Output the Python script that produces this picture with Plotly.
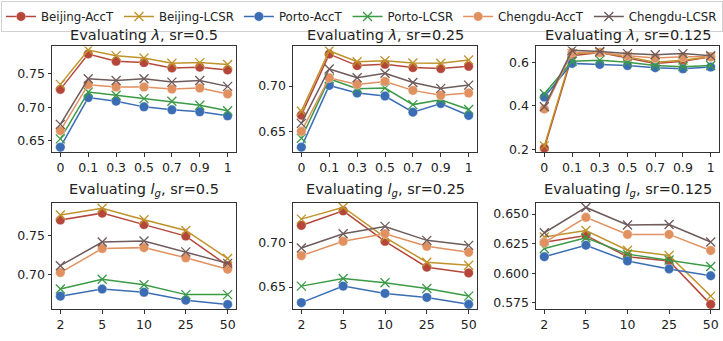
import plotly.graph_objects as go

lam_cats = ["0", "0.1", "0.3", "0.5", "0.7", "0.9", "1"]
lg_cats = ["2", "5", "10", "25", "50"]

series_names = ["Beijing-AccT", "Beijing-LCSR", "Porto-AccT", "Porto-LCSR", "Chengdu-AccT", "Chengdu-LCSR"]

# Evaluating lambda, sr=0.5
lam05_beijing_acct = [0.7267, 0.7797, 0.7688, 0.7668, 0.7589, 0.7599, 0.7559]
lam05_beijing_lcsr = [0.7342, 0.7856, 0.7772, 0.7738, 0.7658, 0.7668, 0.7639]
lam05_porto_acct = [0.6401, 0.7144, 0.7089, 0.7005, 0.6960, 0.6931, 0.6871]
lam05_porto_lcsr = [0.6525, 0.7228, 0.7178, 0.7129, 0.7089, 0.7030, 0.6946]
lam05_chengdu_acct = [0.6649, 0.7337, 0.7302, 0.7302, 0.7272, 0.7287, 0.7198]
lam05_chengdu_lcsr = [0.6743, 0.7426, 0.7401, 0.7426, 0.7376, 0.7401, 0.7312]

# Evaluating lambda, sr=0.25
lam025_beijing_acct = [0.6681, 0.7351, 0.7225, 0.7239, 0.7203, 0.7192, 0.7217]
lam025_beijing_lcsr = [0.6725, 0.7388, 0.7268, 0.7279, 0.7254, 0.7250, 0.7286]
lam025_porto_acct = [0.6330, 0.7007, 0.6924, 0.6891, 0.6714, 0.6808, 0.6678]
lam025_porto_lcsr = [0.6428, 0.7080, 0.6971, 0.6978, 0.6797, 0.6851, 0.6743]
lam025_chengdu_acct = [0.6504, 0.7091, 0.7018, 0.7051, 0.6953, 0.6899, 0.6924]
lam025_chengdu_lcsr = [0.6591, 0.7188, 0.7091, 0.7141, 0.7040, 0.6975, 0.7011]

# Evaluating lambda, sr=0.125
lam0125_beijing_acct = [0.205, 0.630, 0.645, 0.620, 0.595, 0.605, 0.625]
lam0125_beijing_lcsr = [0.215, 0.640, 0.645, 0.625, 0.600, 0.610, 0.625]
lam0125_porto_acct = [0.440, 0.595, 0.590, 0.585, 0.575, 0.570, 0.578]
lam0125_porto_lcsr = [0.455, 0.605, 0.610, 0.600, 0.585, 0.580, 0.585]
lam0125_chengdu_acct = [0.385, 0.645, 0.645, 0.630, 0.620, 0.625, 0.625]
lam0125_chengdu_lcsr = [0.395, 0.655, 0.650, 0.640, 0.635, 0.640, 0.630]

# Evaluating l_g, sr=0.5
lg05_beijing_acct = [0.7699, 0.7788, 0.7640, 0.7492, 0.7110]
lg05_beijing_lcsr = [0.7763, 0.7852, 0.7703, 0.7564, 0.7203]
lg05_porto_acct = [0.6716, 0.6809, 0.6767, 0.6665, 0.6610]
lg05_porto_lcsr = [0.6809, 0.6936, 0.6864, 0.6737, 0.6737]
lg05_chengdu_acct = [0.7021, 0.7331, 0.7343, 0.7212, 0.7064]
lg05_chengdu_lcsr = [0.7110, 0.7415, 0.7428, 0.7288, 0.7140]

# Evaluating l_g, sr=0.25
lg025_beijing_acct = [0.7194, 0.7358, 0.7015, 0.6724, 0.6660]
lg025_beijing_lcsr = [0.7265, 0.7399, 0.7060, 0.6780, 0.6746]
lg025_porto_acct = [0.6325, 0.6511, 0.6429, 0.6384, 0.6306]
lg025_porto_lcsr = [0.6511, 0.6597, 0.6549, 0.6485, 0.6399]
lg025_chengdu_acct = [0.6854, 0.7015, 0.7101, 0.6959, 0.6892]
lg025_chengdu_lcsr = [0.6940, 0.7101, 0.7183, 0.7026, 0.6970]

# Evaluating l_g, sr=0.125
lg0125_beijing_acct = [0.6261, 0.6319, 0.6139, 0.6103, 0.5736]
lg0125_beijing_lcsr = [0.6306, 0.6361, 0.6194, 0.6150, 0.5806]
lg0125_porto_acct = [0.6139, 0.6236, 0.6103, 0.6036, 0.5978]
lg0125_porto_lcsr = [0.6208, 0.6300, 0.6161, 0.6111, 0.6056]
lg0125_chengdu_acct = [0.6258, 0.6472, 0.6328, 0.6328, 0.6192]
lg0125_chengdu_lcsr = [0.6342, 0.6556, 0.6408, 0.6411, 0.6264]

y_ticks_1 = [0.65, 0.70, 0.75]
y_ticks_2 = [0.65, 0.70]
y_ticks_3 = [0.2, 0.4, 0.6]
y_ticks_4 = [0.70, 0.75]
y_ticks_5 = [0.65, 0.70]
y_ticks_6 = [0.575, 0.600, 0.625, 0.650]

titles = [
    "Evaluating <i>λ</i>, sr=0.5",
    "Evaluating <i>λ</i>, sr=0.25",
    "Evaluating <i>λ</i>, sr=0.125",
    "Evaluating <i>l</i><sub><i>g</i></sub>, sr=0.5",
    "Evaluating <i>l</i><sub><i>g</i></sub>, sr=0.25",
    "Evaluating <i>l</i><sub><i>g</i></sub>, sr=0.125",
]

colors = ["#b5473a", "#c0922a", "#3b6db5", "#3b9a46", "#e0915f", "#6e5b5b"]
symbols = ["circle", "x-thin", "circle", "x-thin", "circle", "x-thin"]

panels = [
    (lam_cats, [lam05_beijing_acct, lam05_beijing_lcsr, lam05_porto_acct, lam05_porto_lcsr, lam05_chengdu_acct, lam05_chengdu_lcsr], y_ticks_1, ".2f", [0.6326, 0.791]),
    (lam_cats, [lam025_beijing_acct, lam025_beijing_lcsr, lam025_porto_acct, lam025_porto_lcsr, lam025_chengdu_acct, lam025_chengdu_lcsr], y_ticks_2, ".2f", [0.6275, 0.7435]),
    (lam_cats, [lam0125_beijing_acct, lam0125_beijing_lcsr, lam0125_porto_acct, lam0125_porto_lcsr, lam0125_chengdu_acct, lam0125_chengdu_lcsr], y_ticks_3, ".1f", [0.186, 0.673]),
    (lg_cats, [lg05_beijing_acct, lg05_beijing_lcsr, lg05_porto_acct, lg05_porto_lcsr, lg05_chengdu_acct, lg05_chengdu_lcsr], y_ticks_4, ".2f", [0.6547, 0.7924]),
    (lg_cats, [lg025_beijing_acct, lg025_beijing_lcsr, lg025_porto_acct, lg025_porto_lcsr, lg025_chengdu_acct, lg025_chengdu_lcsr], y_ticks_5, ".2f", [0.625, 0.7451]),
    (lg_cats, [lg0125_beijing_acct, lg0125_beijing_lcsr, lg0125_porto_acct, lg0125_porto_lcsr, lg0125_chengdu_acct, lg0125_chengdu_lcsr], y_ticks_6, ".3f", [0.5694, 0.6597]),
]

W, H = 723, 341
x_domains_px = [(52, 236), (293, 477), (536, 719)]
y_domains_px = [(47, 154), (205, 313)]

fig = go.Figure()
FONT = "DejaVu Sans"

for p, (cats, series, yt, fmt, yr) in enumerate(panels):
    idx = p + 1
    xa = "x" if idx == 1 else f"x{idx}"
    ya = "y" if idx == 1 else f"y{idx}"
    for s, vals in enumerate(series):
        is_x = symbols[s] != "circle"
        fig.add_trace(go.Scatter(
            x=cats, y=vals, xaxis=xa, yaxis=ya,
            mode="lines+markers",
            name=series_names[s],
            legendgroup=series_names[s],
            showlegend=(p == 0),
            line=dict(color=colors[s], width=1.5),
            marker=dict(symbol=symbols[s], size=9 if is_x else 9.5,
                        color=colors[s],
                        line=dict(color=colors[s] if is_x else "rgba(255,255,255,0.6)",
                                  width=1.3 if is_x else 0.6)),
        ))
    r, c = divmod(p, 3)
    x0, x1 = x_domains_px[c]
    y0, y1 = y_domains_px[r]
    xdom = [x0 / W, x1 / W]
    ydom = [1 - y1 / H, 1 - y0 / H]
    n = len(cats)
    axis_common = dict(showline=True, mirror=True, linecolor="#333333", linewidth=1,
                       ticks="outside", ticklen=3.5, tickcolor="#333333", showgrid=False,
                       zeroline=False, tickfont=dict(family=FONT, size=12.5, color="#222222"))
    fig.layout[("xaxis" if idx == 1 else f"xaxis{idx}")] = dict(
        domain=xdom, anchor=ya, type="category", categoryorder="array", categoryarray=cats,
        range=[-0.05 * (n - 1), (n - 1) * 1.05], **axis_common)
    fig.layout[("yaxis" if idx == 1 else f"yaxis{idx}")] = dict(
        domain=ydom, anchor=xa, range=yr, tickvals=yt, tickformat=fmt, **axis_common)
    fig.add_annotation(text=titles[p], xref="paper", yref="paper",
                       x=(xdom[0] + xdom[1]) / 2, y=ydom[1] + 1.5 / H,
                       xanchor="center", yanchor="bottom", showarrow=False,
                       font=dict(family=FONT, size=14.5, color="#222222"))

fig.update_layout(
    width=W, height=H,
    margin=dict(l=0, r=0, t=0, b=0),
    paper_bgcolor="white", plot_bgcolor="white",
    font=dict(family=FONT, color="#222222"),
    legend=dict(orientation="h", x=5 / W, y=1 - 1 / H, xanchor="left", yanchor="top",
                font=dict(family=FONT, size=11.8, color="#222222"),
                bordercolor="#d0d0d0", borderwidth=1, bgcolor="white",
                itemwidth=30, tracegroupgap=0),
)

fig.write_html("out.html", config={"displayModeBar": False},
               post_script="document.body.style.margin='0';document.body.style.overflow='hidden';")
